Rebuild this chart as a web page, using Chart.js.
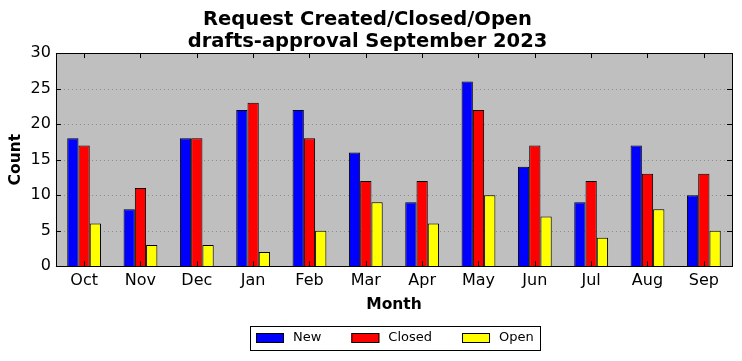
<!DOCTYPE html>
<html>
<head>
<meta charset="utf-8">
<script src="https://cdn.jsdelivr.net/npm/chart.js@4"></script>
<style>
  body { margin: 0; background: #fff; }
  #wrap { width: 742px; height: 361px; }
</style>
</head>
<body>
<div id="wrap"><canvas id="chart" width="742" height="361"></canvas></div>
<script>
const months = ["Oct", "Nov", "Dec", "Jan", "Feb", "Mar", "Apr", "May", "Jun", "Jul", "Aug", "Sep"];
const newCounts = [18, 8, 18, 22, 22, 16, 9, 26, 14, 9, 17, 10];
const closedCounts = [17, 11, 18, 23, 18, 12, 12, 22, 17, 12, 13, 13];
const openCounts = [6, 3, 3, 2, 5, 9, 6, 10, 7, 4, 8, 5];
const yTicks = [0, 5, 10, 15, 20, 25, 30];

const FONT = "'DejaVu Sans', sans-serif";

// grey plot background, black frame, matplotlib-style inward ticks, boxed legend
const framePlugin = {
  id: "frame",
  beforeDatasetsDraw(chart) {
    const a = chart.chartArea;
    const ctx = chart.ctx;
    ctx.save();
    ctx.fillStyle = "#bfbfbf";
    ctx.fillRect(a.left, a.top, a.right - a.left, a.bottom - a.top);
    // dotted grid
    ctx.strokeStyle = "#8c8c8c";
    ctx.lineWidth = 1;
    ctx.setLineDash([1, 3]);
    const y = chart.scales.y;
    yTicks.forEach(v => {
      const py = Math.round(y.getPixelForValue(v)) + 0.5;
      ctx.beginPath();
      ctx.moveTo(a.left, py);
      ctx.lineTo(a.right, py);
      ctx.stroke();
    });
    ctx.restore();
  },
  afterDatasetsDraw(chart) {
    const a = chart.chartArea;
    const ctx = chart.ctx;
    const x = chart.scales.x;
    const y = chart.scales.y;
    ctx.save();
    ctx.strokeStyle = "#000";
    ctx.lineWidth = 1;
    const tl = 5;
    ctx.beginPath();
    months.forEach((m, i) => {
      const px = Math.round(x.getPixelForValue(i)) + 0.5;
      ctx.moveTo(px, a.bottom); ctx.lineTo(px, a.bottom - tl);
      ctx.moveTo(px, a.top); ctx.lineTo(px, a.top + tl);
    });
    yTicks.forEach(v => {
      const py = Math.round(y.getPixelForValue(v)) + 0.5;
      ctx.moveTo(a.left, py); ctx.lineTo(a.left + tl, py);
      ctx.moveTo(a.right, py); ctx.lineTo(a.right - tl, py);
    });
    ctx.stroke();
    ctx.strokeRect(Math.round(a.left) + 0.5, Math.round(a.top) + 0.5,
      Math.round(a.right - a.left), Math.round(a.bottom - a.top));
    ctx.restore();
  },
  afterDraw(chart) {
    // legend in a box below the axis, built from the datasets
    const ctx = chart.ctx;
    const sets = chart.data.datasets;
    ctx.save();
    ctx.font = "13px " + FONT;
    const boxW = 28, boxH = 10, gap = 9, itemGap = 30;
    const widths = sets.map(s => boxW + gap + ctx.measureText(s.label).width);
    const total = widths.reduce((p, w) => p + w, 0) + itemGap * (sets.length - 1);
    const cx = 395;
    const midY = 338;
    let xPos = Math.round(cx - total / 2);
    ctx.strokeStyle = "#000";
    ctx.lineWidth = 1;
    ctx.strokeRect(xPos - 6 + 0.5, 326.5, Math.round(total + 12), 24);
    ctx.textBaseline = "middle";
    ctx.fillStyle = "#000";
    sets.forEach((s, i) => {
      ctx.fillStyle = s.backgroundColor;
      ctx.fillRect(xPos, midY - boxH / 2, boxW, boxH);
      ctx.strokeRect(xPos + 0.5, midY - boxH / 2 + 0.5, boxW - 1, boxH - 1);
      ctx.fillStyle = "#000";
      ctx.fillText(s.label, xPos + boxW + gap, midY);
      xPos += widths[i] + itemGap;
    });
    ctx.restore();
  }
};

const bar = (label, data, color) => ({
  label: label,
  data: data,
  backgroundColor: color,
  borderColor: "#000",
  borderWidth: 1,
  categoryPercentage: 0.6,
  barPercentage: 1.0
});

new Chart(document.getElementById("chart"), {
  type: "bar",
  data: {
    labels: months,
    datasets: [
      bar("New", newCounts, "#0000ff"),
      bar("Closed", closedCounts, "#ff0000"),
      bar("Open", openCounts, "#ffff00")
    ]
  },
  options: {
    responsive: false,
    animation: false,
    layout: { padding: { left: 3, right: 10, top: 0, bottom: 47 } },
    plugins: {
      title: {
        display: true,
        text: ["Request Created/Closed/Open", "drafts-approval September 2023"],
        color: "#000",
        font: { family: FONT, size: 19.5, weight: "bold", lineHeight: 1.13 },
        padding: { top: 9, bottom: 0 }
      },
      legend: { display: false },
      tooltip: { enabled: false }
    },
    scales: {
      x: {
        grid: { display: false, drawTicks: false },
        border: { display: false },
        ticks: { color: "#000", font: { family: FONT, size: 16 }, padding: 5 },
        title: { display: true, text: "Month", color: "#000", font: { family: FONT, size: 15.5, weight: "bold" }, padding: { top: 0, bottom: 0 } }
      },
      y: {
        min: 0,
        max: 30,
        grid: { display: false, drawTicks: false },
        border: { display: false },
        ticks: { stepSize: 5, color: "#000", font: { family: FONT, size: 16 }, padding: 5 },
        title: { display: true, text: "Count", color: "#000", font: { family: FONT, size: 15.5, weight: "bold" }, padding: { top: 4, bottom: 0 } }
      }
    }
  },
  plugins: [framePlugin]
});
</script>
</body>
</html>
